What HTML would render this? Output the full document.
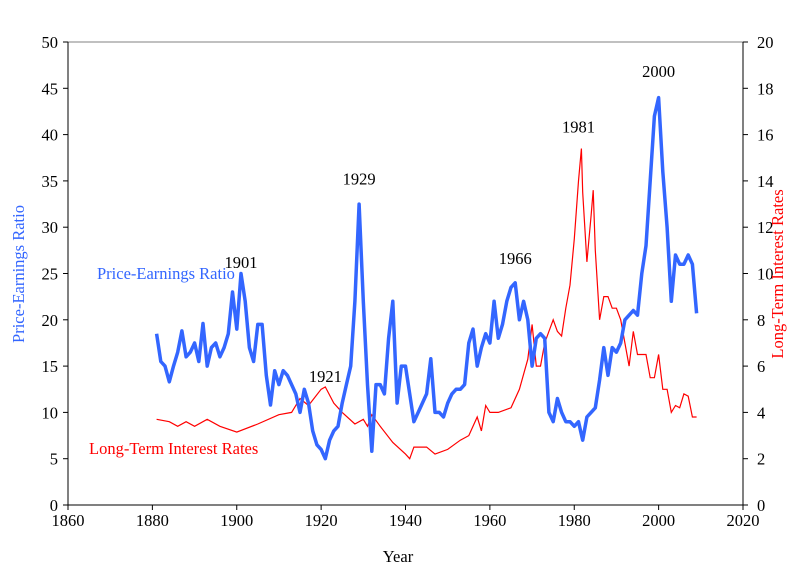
<!DOCTYPE html>
<html><head><meta charset="utf-8"><style>
body{margin:0;background:#fff;width:809px;height:580px;overflow:hidden}
svg text{font-family:"Liberation Serif",serif;font-size:16.5px}
</style></head><body>
<svg id="chart" width="809" height="580">
<g id="axes"></g><g id="series"></g><g id="labels"></g>
</svg>
<script>
const peYears=[1881,1882,1883,1884,1885,1886,1887,1888,1889,1890,1891,1892,1893,1894,1895,1896,1897,1898,1899,1900,1901,1902,1903,1904,1905,1906,1907,1908,1909,1910,1911,1912,1913,1914,1915,1916,1917,1918,1919,1920,1921,1922,1923,1924,1925,1926,1927,1928,1929,1930,1931,1932,1933,1934,1935,1936,1937,1938,1939,1940,1941,1942,1943,1944,1945,1946,1947,1948,1949,1950,1951,1952,1953,1954,1955,1956,1957,1958,1959,1960,1961,1962,1963,1964,1965,1966,1967,1968,1969,1970,1971,1972,1973,1974,1975,1976,1977,1978,1979,1980,1981,1982,1983,1984,1985,1986,1987,1988,1989,1990,1991,1992,1993,1994,1995,1996,1997,1998,1999,2000,2001,2002,2003,2004,2005,2006,2007,2008,2009];
const peValues=[18.5,15.5,15,13.3,15,16.5,18.8,16,16.5,17.5,15.5,19.6,15,17,17.5,16,17,18.5,23,19,25,22,17,15.5,19.5,19.5,14,10.8,14.5,13,14.5,14,13,12,10,12.5,11,8,6.5,6,5,7,8,8.5,11,13,15,22,32.5,22,13,5.8,13,13,12,18,22,11,15,15,12,9,10,11,12,15.8,10,10,9.5,11,12,12.5,12.5,13,17.5,19,15,17,18.5,17.5,22,18,19.5,22,23.5,24,20,22,20,15,18,18.5,18,10,9,11.5,10,9,9,8.5,9,7,9.5,10,10.5,13.5,17,14,17,16.5,17.5,20,20.5,21,20.5,25,28,35,42,44,36,30,22,27,26,26,27,26,20.7];
const rateYears=[1881,1884,1886,1888,1890,1893,1896,1900,1905,1910,1913,1915,1917,1920,1921,1923,1925,1928,1930,1931,1932,1934,1937,1940,1941,1942,1945,1947,1950,1953,1955,1957,1958,1959,1960,1962,1965,1967,1969,1970,1971,1972,1973,1974,1975,1976,1977,1978,1979,1980,1981,1981.7,1982,1983,1984,1984.5,1985,1986,1987,1988,1989,1990,1991,1992,1993,1994,1995,1996,1997,1998,1999,2000,2001,2002,2003,2004,2005,2006,2007,2008,2009];
const rateValues=[3.7,3.6,3.4,3.6,3.4,3.7,3.4,3.15,3.5,3.9,4.0,4.6,4.3,5.0,5.1,4.4,4.0,3.5,3.7,3.4,3.9,3.4,2.7,2.2,2.0,2.5,2.5,2.2,2.4,2.8,3.0,3.8,3.2,4.3,4.0,4.0,4.2,5.0,6.3,7.8,6.0,6.0,7.0,7.5,8.0,7.5,7.3,8.5,9.5,11.5,14,15.4,13.5,10.5,12.5,13.6,11,8,9,9,8.5,8.5,8,7,6,7.5,6.5,6.5,6.5,5.5,5.5,6.5,5,5,4,4.3,4.2,4.8,4.7,3.8,3.8];
const xTicks=[1860,1880,1900,1920,1940,1960,1980,2000,2020];
const leftTicks=[0,5,10,15,20,25,30,35,40,45,50];
const rightTicks=[0,2,4,6,8,10,12,14,16,18,20];
const annYears=[1901,1921,1929,1966,1981,2000];
const annLevel=[25.6,13.3,34.6,26.0,40.2,46.2];

const L=68,R=743,T=42,B=505;
const X=y=>L+(y-1860)/160*(R-L);
const YL=v=>B-v/50*(B-T);
const YR=v=>B-v/20*(B-T);
const NS='http://www.w3.org/2000/svg';
function mk(tag,attrs,parent,txt){const e=document.createElementNS(NS,tag);for(const k in attrs)e.setAttribute(k,attrs[k]);if(txt!==undefined)e.textContent=txt;parent.appendChild(e);return e;}
const ax=document.getElementById('axes'),se=document.getElementById('series'),lb=document.getElementById('labels');
let e=mk('rect',{x:L,y:T,width:R-L,height:B-T,fill:'none',stroke:'#808080','stroke-width':1},ax);


xTicks.forEach(t=>{
 mk('line',{x1:X(t),x2:X(t),y1:B,y2:B+5,stroke:'#000'},ax);
 let tx=mk('text',{x:X(t),y:B+21,'text-anchor':'middle'},ax,t);
 
 
});
mk('line',{x1:L,x2:R,y1:B,y2:B,stroke:'#000'},ax);
mk('line',{x1:L,x2:L,y1:T,y2:B,stroke:'#000'},ax);
mk('line',{x1:R,x2:R,y1:T,y2:B,stroke:'#000'},ax);
leftTicks.forEach(t=>{
 mk('line',{x1:L-5,x2:L,y1:YL(t),y2:YL(t),stroke:'#000'},ax);
 let tx=mk('text',{x:L-10,y:YL(t)+6,'text-anchor':'end'},ax,t);
 
 
});
rightTicks.forEach(t=>{
 mk('line',{x1:R,x2:R+5,y1:YR(t),y2:YR(t),stroke:'#000'},ax);
 let tx=mk('text',{x:R+14,y:YR(t)+6,'text-anchor':'start'},ax,t);
 
 
});
let rp=mk('polyline',{points:rateYears.map((y,i)=>X(y).toFixed(1)+','+YR(rateValues[i]).toFixed(1)).join(' '),fill:'none',stroke:'#ff0000','stroke-width':1.2},se);


let pp=mk('polyline',{points:peYears.map((y,i)=>X(y).toFixed(1)+','+YL(peValues[i]).toFixed(1)).join(' '),fill:'none',stroke:'#3366ff','stroke-width':3.5,'stroke-linejoin':'round'},se);


annYears.forEach((y,i)=>{
 let tx=mk('text',{x:X(y),y:YL(annLevel[i]),'text-anchor':'middle'},lb,y);
 
 
});
</script>
<svg style="position:absolute;left:0;top:0" width="809" height="580">
<text x="398" y="562" text-anchor="middle" font-family="Liberation Serif" font-size="16.5">Year</text>
<text transform="translate(24,274) rotate(-90)" text-anchor="middle" fill="#3366ff" font-family="Liberation Serif" font-size="16.5">Price-Earnings Ratio</text>
<text transform="translate(783,274) rotate(-90)" text-anchor="middle" fill="#ff0000" font-family="Liberation Serif" font-size="16.5">Long-Term Interest Rates</text>
<text x="97" y="279" fill="#3366ff" font-family="Liberation Serif" font-size="16.5">Price-Earnings Ratio</text>
<text x="89" y="454" fill="#ff0000" font-family="Liberation Serif" font-size="16.5">Long-Term Interest Rates</text>
</svg>
</body></html>
